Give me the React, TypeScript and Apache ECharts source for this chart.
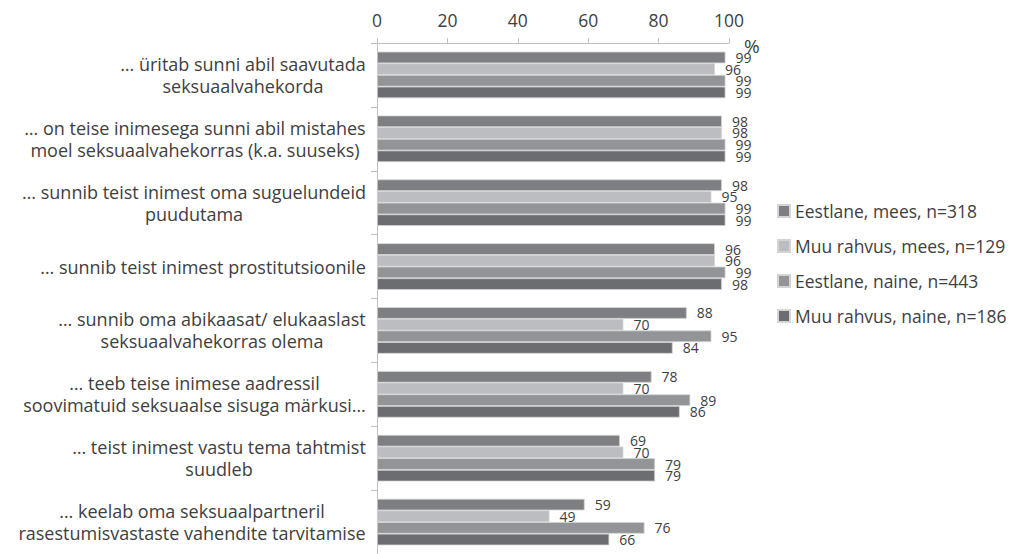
import { useEffect, useRef } from "react";
import * as echarts from "echarts";

const categories = [
  "… üritab sunni abil saavutada\nseksuaalvahekorda",
  "… on teise inimesega sunni abil mistahes\nmoel seksuaalvahekorras (k.a. suuseks)",
  "… sunnib teist inimest oma suguelundeid\npuudutama",
  "… sunnib teist inimest prostitutsioonile",
  "… sunnib oma abikaasat/ elukaaslast\nseksuaalvahekorras olema",
  "… teeb teise inimese aadressil\nsoovimatuid seksuaalse sisuga märkusi…",
  "… teist inimest vastu tema tahtmist\nsuudleb",
  "… keelab oma seksuaalpartneril\nrasestumisvastaste vahendite tarvitamise",
];

const seriesNames = [
  "Eestlane, mees, n=318",
  "Muu rahvus, mees, n=129",
  "Eestlane, naine, n=443",
  "Muu rahvus, naine, n=186",
];

const eestlaneMees = [99, 98, 98, 96, 88, 78, 69, 59];
const muuRahvusMees = [96, 98, 95, 96, 70, 70, 70, 49];
const eestlaneNaine = [99, 99, 99, 99, 95, 89, 79, 76];
const muuRahvusNaine = [99, 99, 99, 98, 84, 86, 79, 66];

const xMin = 0;
const xMax = 100;
const xInterval = 20;
const unitLabel = "%";

const colors = ["#7e7f83", "#bcbdc1", "#939497", "#6c6d71"];
const FONT = "'Open Sans', sans-serif";
const LABEL_SIZE = 18;

function measure(text: string): number {
  const canvas = document.createElement("canvas");
  const ctx = canvas.getContext("2d");
  if (!ctx) return text.length * 9;
  ctx.font = `${LABEL_SIZE}px 'Open Sans', sans-serif`;
  return ctx.measureText(text).width;
}

export default function App() {
  const ref = useRef<HTMLDivElement>(null);

  useEffect(() => {
    if (!ref.current) return;
    const chart = echarts.init(ref.current, undefined, { renderer: "svg" });
    const values = [eestlaneMees, muuRahvusMees, eestlaneNaine, muuRahvusNaine];

    const rich: Record<string, any> = {};
    categories.forEach((c, i) => {
      const w = Math.ceil(Math.max(...c.split("\n").map(measure)));
      rich["c" + i] = {
        width: w,
        align: "center",
        fontSize: LABEL_SIZE,
        lineHeight: 22,
        color: "#404040",
        fontFamily: FONT,
      };
    });

    chart.setOption({
      animation: false,
      textStyle: { fontFamily: FONT },
      grid: { left: 377, top: 43, width: 352, height: 514, containLabel: false },
      legend: {
        orient: "vertical",
        left: 777,
        top: 200,
        padding: 0,
        icon: "rect",
        itemWidth: 12,
        itemHeight: 12,
        itemGap: 13,
        textStyle: { fontSize: 17.5, color: "#404040", fontFamily: FONT, lineHeight: 22 },
        data: seriesNames,
      },
      xAxis: {
        type: "value",
        position: "top",
        min: xMin,
        max: xMax,
        interval: xInterval,
        axisLine: { show: true, lineStyle: { color: "#bfbfbf" } },
        axisTick: { show: true, length: 5, lineStyle: { color: "#bfbfbf" } },
        splitLine: { show: false },
        axisLabel: { fontSize: 17.5, color: "#404040", margin: 14, fontFamily: FONT },
      },
      yAxis: {
        type: "category",
        inverse: true,
        data: categories,
        axisLine: { show: true, lineStyle: { color: "#bfbfbf" } },
        axisTick: { show: true, length: 6, lineStyle: { color: "#bfbfbf" } },
        axisLabel: {
          margin: 11,
          align: "right",
          color: "#404040",
          fontSize: LABEL_SIZE,
          fontFamily: FONT,
          formatter: (v: string, idx: number) =>
            v
              .split("\n")
              .map((l) => `{c${idx}|${l}}`)
              .join("\n"),
          rich,
        },
      },
      graphic: [
        {
          type: "text",
          left: 744,
          top: 36,
          style: { text: unitLabel, fontSize: 19, fill: "#404040", fontFamily: FONT },
        },
      ],
      series: seriesNames.map((name, i) => ({
        name,
        type: "bar",
        data: values[i],
        barGap: "0%",
        barCategoryGap: "27%",
        itemStyle: { color: colors[i], borderColor: "#d4d4d6", borderWidth: 0.8 },
        label: {
          show: true,
          position: "right",
          distance: 10,
          fontSize: 14,
          color: "#404040",
          fontFamily: FONT,
        },
      })),
    });

    return () => chart.dispose();
  }, []);

  return (
    <div
      ref={ref}
      style={{ position: "absolute", left: 0, top: 0, width: 1020, height: 554 }}
    />
  );
}
